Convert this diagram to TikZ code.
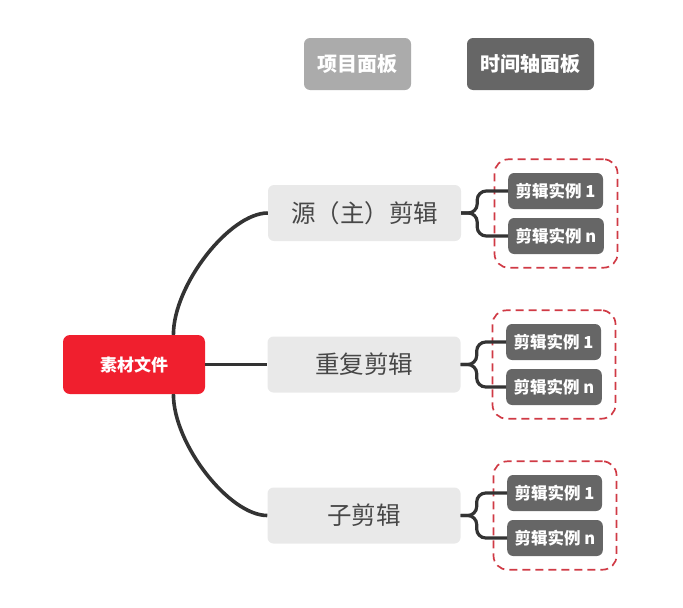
\documentclass[tikz,border=0pt]{standalone}
\usepackage{fontspec}
\setmainfont{Noto Sans CJK SC}
\usepackage{xcolor}
\usetikzlibrary{positioning,fit,calc}

\definecolor{panelgray}{HTML}{ABABAB}
\definecolor{darkgray}{HTML}{666666}
\definecolor{srcred}{HTML}{F01F2E}
\definecolor{clipfill}{HTML}{E9E9E9}
\definecolor{linegray}{HTML}{333333}
\definecolor{dashred}{HTML}{D03A45}

\begin{document}
\begin{tikzpicture}[x=1pt, y=-1pt, every node/.style={font=\small}]
\tikzstyle{panel}=[rectangle, rounded corners=6pt, minimum height=52pt, text=white, font=\fontsize{20}{23}\selectfont\bfseries]
\tikzstyle{clip}=[rectangle, rounded corners=6pt, minimum width=193pt, minimum height=56pt, fill=clipfill, text=linegray!90, font=\fontsize{24.5}{28}\selectfont]
\tikzstyle{inst}=[rectangle, rounded corners=6pt, minimum height=36pt, inner xsep=7.5pt, fill=darkgray, text=white, anchor=west, font=\fontsize{16.5}{19}\selectfont\bfseries]
\tikzstyle{group}=[draw=dashred, dashed, dash pattern=on 8pt off 5pt, line width=1.7pt, rounded corners=14pt, inner sep=13.5pt]
\tikzstyle{link}=[draw=linegray, line width=3.6pt]
\tikzstyle{fork}=[draw=linegray, line width=3.2pt, rounded corners=9pt]

\useasboundingbox (0,0) rectangle (683,608);

% Legend panels
\node[panel, fill=panelgray, minimum width=107pt] (proj) at (357.5,64) {项目面板};
\node[panel, fill=darkgray, minimum width=127pt] (time) at (530.5,64) {时间轴面板};

% Source file and clips
\node[rectangle, rounded corners=7pt, minimum width=142pt, minimum height=59pt, fill=srcred, text=white, font=\fontsize{17}{20}\selectfont\bfseries] (src) at (134,364.5) {素材文件};
\node[clip] (master) at (364.5,213) {源（主）剪辑};
\node[clip] (dup) at (364,364.5) {重复剪辑};
\node[clip] (sub) at (364,515.5) {子剪辑};

% Instances
\node[inst] (m1) at (508,191) {剪辑实例 1};
\node[inst] (mn) at (508,236) {剪辑实例 n};
\node[inst] (d1) at (506,342) {剪辑实例 1};
\node[inst] (dn) at (506,387) {剪辑实例 n};
\node[inst] (s1) at (507,493) {剪辑实例 1};
\node[inst] (sn) at (507,538) {剪辑实例 n};

\node[group, fit=(m1)(mn)] (gm) {};
\node[group, fit=(d1)(dn)] (gd) {};
\node[group, fit=(s1)(sn)] (gs) {};

% Edges
\draw[link] (src.37) .. controls +(0,-50) and +(-38,0) .. (master.west);
\draw[link] (src.-37) .. controls +(0,50) and +(-38,0) .. (sub.west);
\draw[link] (src.east) -- (dup.west);

\draw[fork] (master.east) -- ++(16,0) |- (m1.west);
\draw[fork] (master.east) -- ++(16,0) |- (mn.west);
\draw[fork] (dup.east) -- ++(16,0) |- (d1.west);
\draw[fork] (dup.east) -- ++(16,0) |- (dn.west);
\draw[fork] (sub.east) -- ++(16,0) |- (s1.west);
\draw[fork] (sub.east) -- ++(16,0) |- (sn.west);
\end{tikzpicture}
\end{document}
